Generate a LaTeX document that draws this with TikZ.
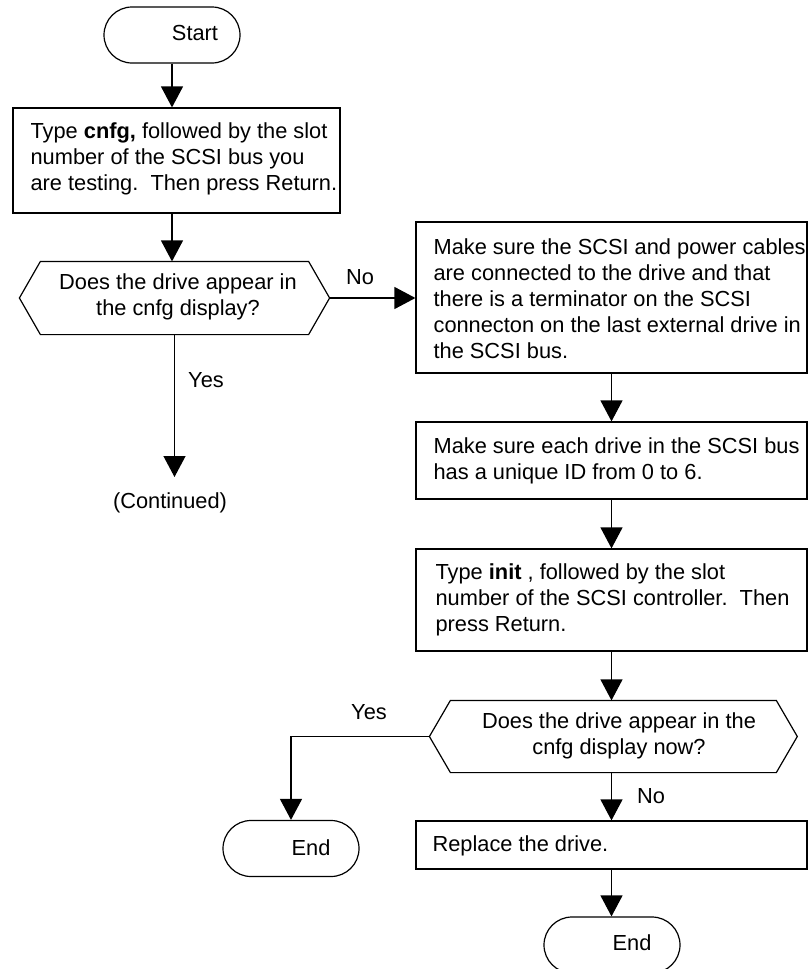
\documentclass[tikz,border=0pt]{standalone}
\usepackage{fontspec}
\setmainfont{Liberation Sans}
\usetikzlibrary{arrows.meta}
\begin{document}
\begin{tikzpicture}[x=0.5pt,y=-0.5pt,
  line width=0.6pt,
  font=\fontsize{10.9pt}{13pt}\selectfont,
  shp/.style={draw, line width=0.6pt, inner sep=0pt},
  boxshape/.style={shp, rectangle, minimum width=195.5pt},
  term/.style={shp, rectangle, rounded corners=14pt, minimum width=68pt, minimum height=28pt},
  hexarea/.style={rectangle, inner sep=0pt},
  txt/.style={inner sep=0pt, align=left, anchor=west},
  ctxt/.style={inner sep=0pt, align=center},
  lbl/.style={inner sep=0pt},
  arr/.style={-{Triangle[length=10.5pt,width=11pt]}},
]
\clip (0,0) rectangle (811,969);

% terminals
\node[term] (start) at (172,35) {};
\node[lbl] (startt) at (195,33) {Start};
\node[term] (e1) at (291,848.5) {};
\node[lbl] (e1t) at (311,848) {End};
\node[term] (e2) at (612,945) {};
\node[lbl] (e2t) at (632,943) {End};

% boxes
\node[shp, rectangle, minimum width=163.5pt, minimum height=52.5pt] (b1) at (176.5,160.5) {};
\node[txt] (b1t) at (30,159) {Type \textbf{cnfg,} followed by the slot\\number of the SCSI bus you\\are testing.\ \ Then press Return.};

\node[boxshape, minimum height=75.5pt] (b2) at (611.5,297.5) {};
\node[txt] (b2t) at (433,299) {Make sure the SCSI and power cables\\are connected to the drive and that\\there is a terminator on the SCSI\\connecton on the last external drive in\\the SCSI bus.};

\node[boxshape, minimum height=38.5pt] (b3) at (611.5,460.5) {};
\node[txt] (b3t) at (433,461) {Make sure each drive in the SCSI bus\\has a unique ID from 0 to 6.};

\node[boxshape, minimum height=51pt] (b4) at (611.5,600) {};
\node[txt] (b4t) at (435,600) {Type \textbf{init} , followed by the slot\\number of the SCSI controller.\ \ Then\\press Return.};

\node[boxshape, minimum height=24pt] (b5) at (611.5,845) {};
\node[txt] (b5t) at (432,846) {Replace the drive.};

% decisions
\node[hexarea, minimum width=154.5pt, minimum height=36pt] (h1) at (174.5,298) {};
\draw (h1.west) -- ([xshift=10.5pt]h1.north west) -- ([xshift=-10.5pt]h1.north east) -- (h1.east)
  -- ([xshift=-10.5pt]h1.south east) -- ([xshift=10.5pt]h1.south west) -- cycle;
\node[ctxt] (h1t) at (178,297) {Does the drive appear in\\the cnfg display?};

\node[hexarea, minimum width=183.35pt, minimum height=35.5pt] (h2) at (613.35,736.5) {};
\draw (h2.west) -- ([xshift=10.5pt]h2.north west) -- ([xshift=-10.5pt]h2.north east) -- (h2.east)
  -- ([xshift=-10.5pt]h2.south east) -- ([xshift=10.5pt]h2.south west) -- cycle;
\node[ctxt] (h2t) at (619,736) {Does the drive appear in the\\cnfg display now?};

% continuation
\coordinate (c1) at (174.5,477);
\node[lbl] (cont) at (170,503) {(Continued)};

% labels
\node[lbl] (no1) at (360,277) {No};
\node[lbl] (yes1) at (206,380) {Yes};
\node[lbl] (yes2) at (369,712) {Yes};
\node[lbl] (no2) at (651,796) {No};

% connectors
\draw[arr] (start.south) -- (start.south |- b1.north);
\draw[arr] (b1.south -| start.south) -- (h1.north -| start.south);
\draw[arr] (h1.east) -- (h1.east -| b2.west);
\draw[arr] (h1.south) -- (c1);
\draw[arr] (b2.south) -- (b3.north);
\draw[arr] (b3.south) -- (b4.north);
\draw[arr] (b4.south) -- (b4.south |- h2.north);
\draw[arr] (h2.west) -| (e1.north);
\draw[arr] (b5.north |- h2.south) -- (b5.north);
\draw[arr] (b5.south) -- (b5.south |- e2.north);
\end{tikzpicture}
\end{document}
